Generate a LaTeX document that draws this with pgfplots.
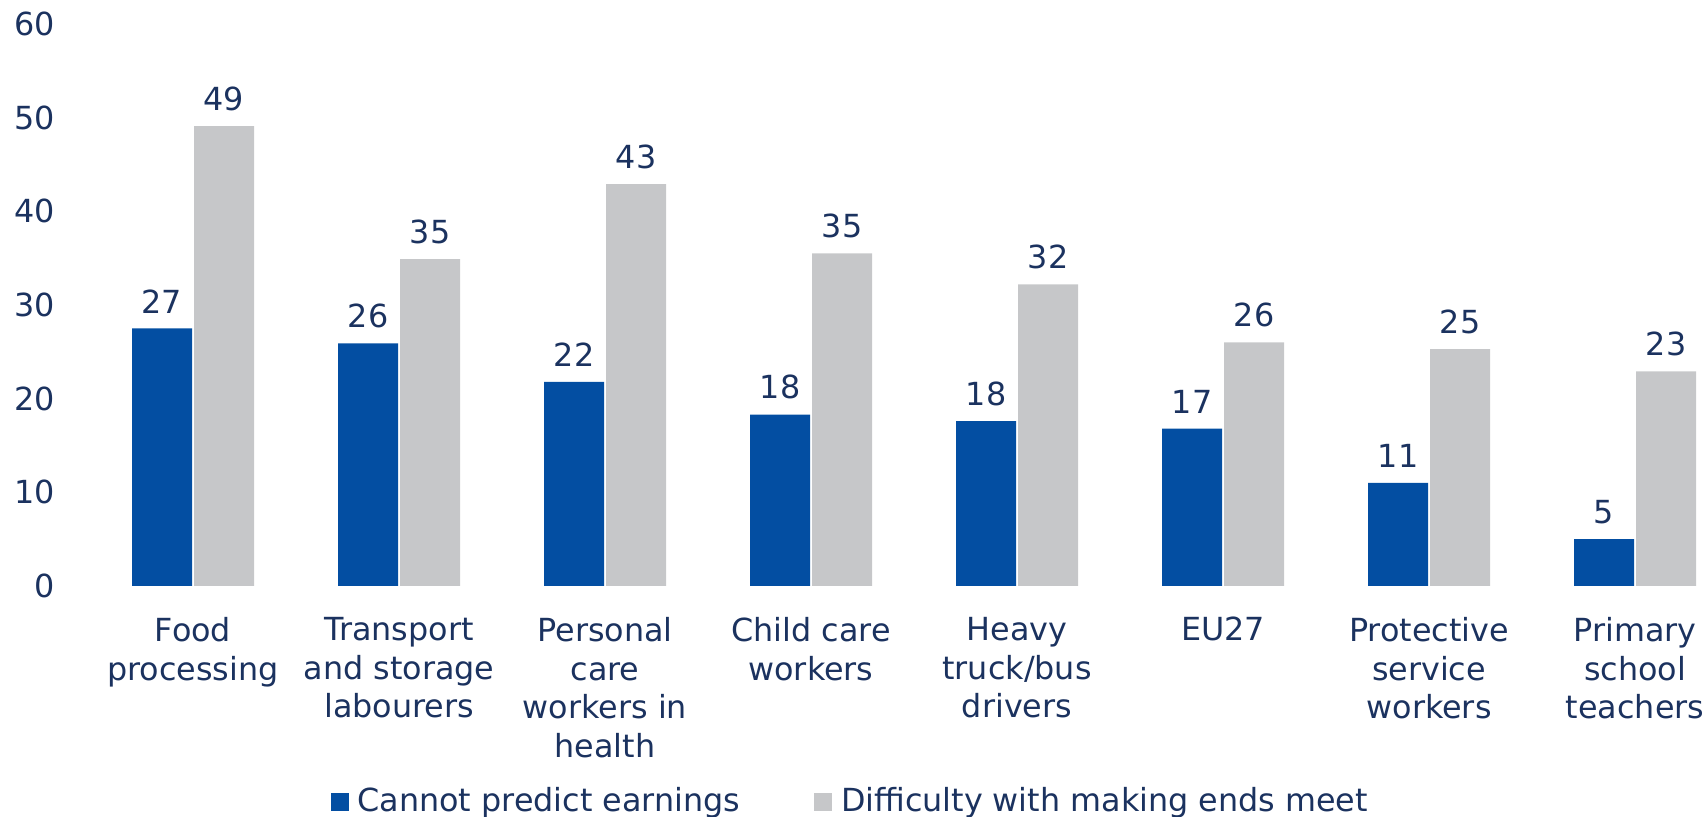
\documentclass[border=0pt]{standalone}
\usepackage{fontspec}
\setmainfont{DejaVu Sans}
\usepackage{pgfplots}
\pgfplotsset{compat=1.18}

\definecolor{cblue}{HTML}{034EA2}
\definecolor{cgray}{HTML}{C6C7C9}
\definecolor{ctext}{HTML}{1B325F}

\newcommand{\chfont}{\fontsize{15.9pt}{19.3pt}\selectfont}

\begin{document}
\begin{tikzpicture}
\chfont
\begin{axis}[
  at={(45pt,115.5pt)}, anchor=south west,
  scale only axis, width=809pt, height=281pt,
  xmin=-0.5, xmax=7.354, ymin=0, ymax=60,
  ybar=1pt, bar width=30pt,
  axis line style={draw=none}, tick style={draw=none},
  ytick={0,10,...,60},
  xtick=data,
  xticklabels={{Food\\processing},{Transport\\and storage\\labourers},{Personal\\care\\workers in\\health},{Child care\\workers},{Heavy\\truck/bus\\drivers},{EU27},{Protective\\service\\workers},{Primary\\school\\teachers}},
  xticklabel style={align=center, anchor=north, inner sep=0pt, yshift=-11.2pt, text=ctext, font=\chfont},
  yticklabel style={anchor=east, inner sep=0pt, xshift=-17.5pt, text=ctext, font=\chfont},
  /pgf/number format/assume math mode=true,
  point meta=explicit symbolic,
  nodes near coords,
  nodes near coords style={anchor=south, inner sep=0pt, yshift=7.5pt, text=ctext, font=\chfont},
  legend columns=2,
  legend style={draw=none, fill=none, at={(0.4705,-0.384)}, anchor=center, text=ctext,
    font=\chfont,
    /tikz/every even column/.append style={column sep=35pt}},
  legend image code/.code={\fill[#1,draw=none] (0pt,-4.5pt) rectangle (9pt,4.5pt);
    \path (11.4pt,0pt);},
]
\addplot[fill=cblue, draw=none] coordinates {
  (0,27.5) [27] (1,25.9) [26] (2,21.8) [22] (3,18.3) [18]
  (4,17.6) [18] (5,16.8) [17] (6,11.0) [11] (7,5.0) [5]};
\addlegendentry{Cannot predict earnings}
\addplot[fill=cgray, draw=none] coordinates {
  (0,49.1) [49] (1,34.9) [35] (2,42.9) [43] (3,35.5) [35]
  (4,32.2) [32] (5,26.0) [26] (6,25.3) [25] (7,22.9) [23]};
\addlegendentry{Difficulty with making ends meet}
\end{axis}
\pgfresetboundingbox
\path[use as bounding box] (0,0) rectangle (854pt,408.5pt);
\end{tikzpicture}
\end{document}
